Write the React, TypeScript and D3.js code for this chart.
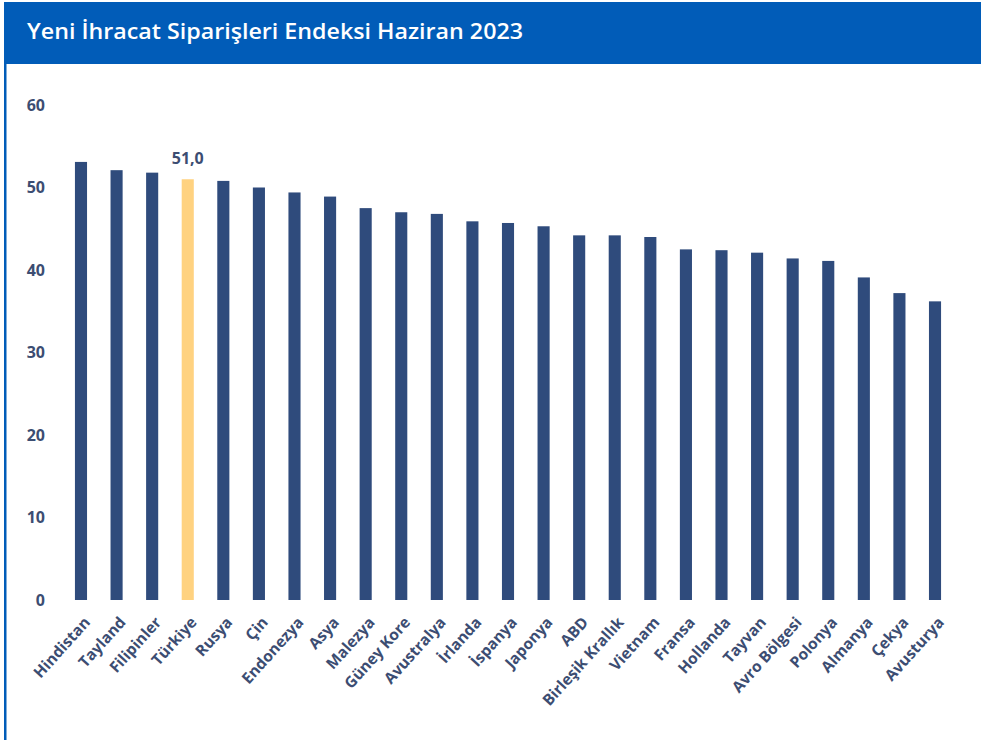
import React, { useRef, useEffect } from 'react';
import * as d3 from 'd3';

const countries = [
  'Hindistan', 'Tayland', 'Filipinler', 'Türkiye', 'Rusya', 'Çin', 'Endonezya', 'Asya',
  'Malezya', 'Güney Kore', 'Avustralya', 'İrlanda', 'İspanya', 'Japonya', 'ABD',
  'Birleşik Krallık', 'Vietnam', 'Fransa', 'Hollanda', 'Tayvan', 'Avro Bölgesi',
  'Polonya', 'Almanya', 'Çekya', 'Avusturya',
];
const values = [
  53.1, 52.1, 51.8, 51.0, 50.8, 50.0, 49.4, 48.9,
  47.5, 47.0, 46.8, 45.9, 45.7, 45.3, 44.2,
  44.2, 44.0, 42.5, 42.4, 42.1, 41.4,
  41.1, 39.1, 37.2, 36.2,
];
const yTicks = [0, 10, 20, 30, 40, 50, 60];
const highlight = 'Türkiye';
const title = 'Yeni İhracat Siparişleri Endeksi Haziran 2023';

const W = 981;
const H = 740;

const App: React.FC = () => {
  const svgRef = useRef<SVGSVGElement>(null);

  useEffect(() => {
    if (!svgRef.current) return;
    const svg = d3.select(svgRef.current);
    svg.selectAll('*').remove();

    const blue = '#015cb8';
    const navy = '#2f4b7c';
    const gold = '#ffd280';
    const textColor = '#3c4d72';
    const font = "'Open Sans', sans-serif";

    svg.append('rect').attr('width', W).attr('height', H).attr('fill', '#fff');

    // header band + left border
    svg.append('rect').attr('x', 4).attr('y', 2).attr('width', W - 4).attr('height', 62).attr('fill', blue);
    svg.append('rect').attr('x', 4).attr('y', 2).attr('width', 2.5).attr('height', H).attr('fill', blue);

    svg.append('text')
      .attr('x', 27)
      .attr('y', 39)
      .attr('fill', '#fff')
      .attr('font-family', font)
      .attr('font-weight', 600)
      .attr('font-size', 22)
      .attr('textLength', 496)
      .attr('lengthAdjust', 'spacingAndGlyphs')
      .text(title);

    const x = d3.scaleBand()
      .domain(countries)
      .range([63.2, 952.8])
      .paddingInner(0.66)
      .paddingOuter(0.33);

    const y = d3.scaleLinear().domain([0, 60]).range([600, 105]);

    // y axis labels
    svg.append('g')
      .selectAll('text')
      .data(yTicks)
      .enter().append('text')
      .attr('x', 45)
      .attr('y', d => y(d))
      .attr('dy', '0.36em')
      .attr('text-anchor', 'end')
      .attr('fill', textColor)
      .attr('font-family', font)
      .attr('font-weight', 'bold')
      .attr('font-size', 16)
      .text(d => d);

    // bars
    svg.append('g')
      .selectAll('rect')
      .data(countries)
      .enter().append('rect')
      .attr('x', d => x(d) || 0)
      .attr('y', (d, i) => y(values[i]))
      .attr('width', x.bandwidth())
      .attr('height', (d, i) => y(0) - y(values[i]))
      .attr('fill', d => d === highlight ? gold : navy);

    // value label for highlighted bar
    const hi = countries.indexOf(highlight);
    svg.append('text')
      .attr('x', (x(highlight) || 0) + x.bandwidth() / 2)
      .attr('y', y(values[hi]) - 15)
      .attr('text-anchor', 'middle')
      .attr('fill', textColor)
      .attr('font-family', font)
      .attr('font-weight', 'bold')
      .attr('font-size', 16)
      .text(d3.format('.1f')(values[hi]).replace('.', ','));

    // category labels, rotated
    svg.append('g')
      .selectAll('text')
      .data(countries)
      .enter().append('text')
      .attr('transform', d => `translate(${(x(d) || 0) + x.bandwidth() / 2 + 10},${623}) rotate(-48)`)
      .attr('text-anchor', 'end')
      .attr('fill', textColor)
      .attr('font-family', font)
      .attr('font-weight', 'bold')
      .attr('font-size', 15.5)
      .text(d => d);
  }, []);

  return <svg ref={svgRef} width={W} height={H} style={{ position: 'absolute', left: 0, top: 0 }} />;
};

export default App;
